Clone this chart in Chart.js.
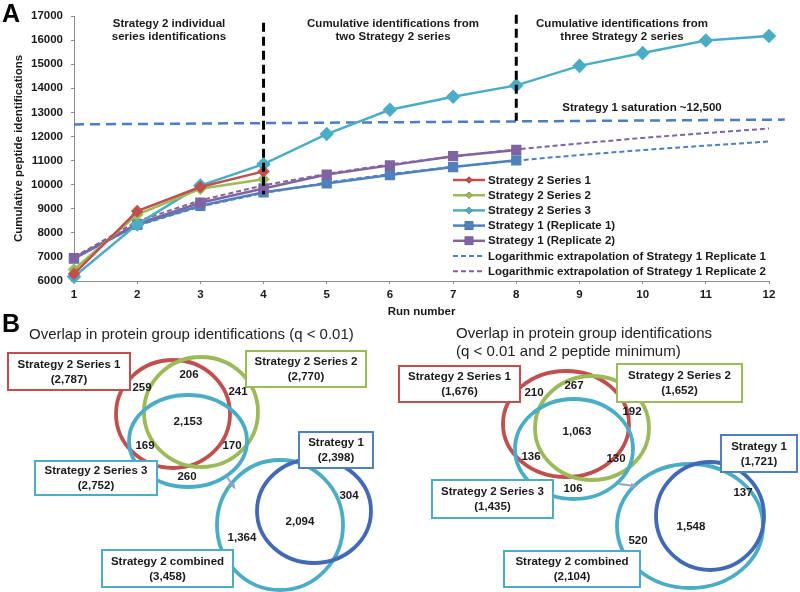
<!DOCTYPE html>
<html>
<head>
<meta charset="utf-8">
<script src="https://cdn.jsdelivr.net/npm/chart.js@4.4.0/dist/chart.umd.min.js"></script>
<style>
  html, body { margin: 0; padding: 0; background: #fff; }
  #wrap { position: relative; width: 800px; height: 592px; overflow: hidden; }
  #runChart { position: absolute; left: 0; top: 0; }
  #vennChart { position: absolute; left: 0; top: 305px; }
</style>
</head>
<body>
<div id="wrap">
  <canvas id="runChart" width="800" height="320"></canvas>
  <canvas id="vennChart" width="800" height="287"></canvas>
</div>
<script>
// ---- panel A data ----
const runs = [1, 2, 3, 4, 5, 6, 7, 8, 9, 10, 11, 12];
const series1 = [6300, 8900, 9900, 10550];
const series2 = [6480, 8760, 9830, 10220];
const series3 = [6180, 8350, 9960, 10850, 12100, 13110, 13650, 14120, 14930, 15460, 15980, 16170];
const replicate1 = [6930, 8330, 9120, 9680, 10050, 10400, 10730, 11010];
const replicate2 = [6950, 8370, 9250, 9840, 10420, 10800, 11180, 11440];
const extrap1 = [6950, 8300, 9090, 9650, 10085, 10440, 10740, 11000, 11230, 11435, 11620, 11790];
const extrap2 = [6990, 8480, 9350, 9970, 10450, 10840, 11170, 11460, 11710, 11940, 12140, 12330];
const saturationRuns = [1, 12.25];
const saturationValues = [12500, 12700];
const dividerRuns = [4, 8];
const dividerSpans = [[16720, 9600], [17050, 12650]];
const seriesNames = [
  'Strategy 2 Series 1', 'Strategy 2 Series 2', 'Strategy 2 Series 3',
  'Strategy 1 (Replicate 1)', 'Strategy 1 (Replicate 2)',
  'Logarithmic extrapolation of Strategy 1 Replicate 1',
  'Logarithmic extrapolation of Strategy 1 Replicate 2'
];

// ---- panel B data ----
const setNames = ['Strategy 2 Series 1', 'Strategy 2 Series 2', 'Strategy 2 Series 3', 'Strategy 1', 'Strategy 2 combined'];
const leftTotals = ['2,787', '2,770', '2,752', '2,398', '3,458'];
const rightTotals = ['1,676', '1,652', '1,435', '1,721', '2,104'];
const leftCounts = ['259', '206', '241', '2,153', '169', '170', '260', '304', '2,094', '1,364'];
const rightCounts = ['210', '267', '192', '1,063', '136', '130', '106', '137', '1,548', '520'];

const RED = '#C0504D', GREEN = '#9BBB59', CYAN = '#4BACC6', BLUE = '#4F81BD', PURPLE = '#8064A2';
const FONT = '"Liberation Sans", Arial, sans-serif';
const TXT = '#1a1a1a';
const BOLD = 'bold 11.5px ' + FONT;

const pts = (xs, ys) => ys.map((v, i) => ({x: xs[i], y: v}));

const lineStyle = (color, shape, r) => ({
  borderColor: color, backgroundColor: color, borderWidth: 2.5,
  pointStyle: shape, pointRadius: r, pointHoverRadius: r, tension: 0, clip: 10
});

const datasets = [
  {label: seriesNames[0], data: pts(runs, series1), ...lineStyle(RED, 'rectRot', 4.5), order: 2, legend: true},
  {label: seriesNames[1], data: pts(runs, series2), ...lineStyle(GREEN, 'rectRot', 4.5), order: 3, legend: true},
  {label: seriesNames[2], data: pts(runs, series3), ...lineStyle(CYAN, 'rectRot', 5.5), order: 4, legend: true},
  {label: seriesNames[3], data: pts(runs, replicate1), ...lineStyle(BLUE, 'rect', 5.5), order: 6, legend: true},
  {label: seriesNames[4], data: pts(runs, replicate2), ...lineStyle(PURPLE, 'rect', 5.5), order: 5, legend: true},
  {label: seriesNames[5], data: pts(runs, extrap1), borderColor: BLUE, borderWidth: 2, borderDash: [5, 3], pointRadius: 0, order: 7, legend: true},
  {label: seriesNames[6], data: pts(runs, extrap2), borderColor: PURPLE, borderWidth: 2, borderDash: [5, 3], pointRadius: 0, order: 8, legend: true},
  {label: 'saturation', data: pts(saturationRuns, saturationValues), borderColor: '#4A7EC4', borderWidth: 2.5, borderDash: [10, 6], pointRadius: 0, clip: false, order: 9},
  {label: 'div4', data: pts([dividerRuns[0], dividerRuns[0]], dividerSpans[0]), borderColor: '#000', borderWidth: 3, borderDash: [9, 5], pointRadius: 0, clip: false, order: 1},
  {label: 'div8', data: pts([dividerRuns[1], dividerRuns[1]], dividerSpans[1]), borderColor: '#000', borderWidth: 3, borderDash: [9, 5], pointRadius: 0, clip: false, order: 1}
];

// notes and legend drawn on top of the plot
const notesPlugin = {
  id: 'notes',
  afterDraw(chart) {
    const c = chart.ctx;
    c.save();
    c.fillStyle = '#000';
    c.font = 'bold 25px ' + FONT;
    c.textAlign = 'left';
    c.textBaseline = 'middle';
    c.fillText('A', 2, 15);

    c.fillStyle = TXT;
    c.font = BOLD;
    c.textAlign = 'center';
    const notes = [
      [169, 24, 'Strategy 2 individual'], [169, 37, 'series identifications'],
      [393, 24, 'Cumulative identifications from'], [393, 37, 'two Strategy 2 series'],
      [622, 24, 'Cumulative identifications from'], [622, 37, 'three Strategy 2 series'],
      [642, 108, 'Strategy 1 saturation ~12,500']
    ];
    notes.forEach(([x, y, t]) => c.fillText(t, x, y));

    // legend
    c.textAlign = 'left';
    chart.data.datasets.filter(d => d.legend).forEach((d, i) => {
      const y = 180 + i * 15.2;
      c.save();
      c.strokeStyle = d.borderColor;
      c.lineWidth = d.borderDash ? 2 : 2.5;
      c.setLineDash(d.borderDash || []);
      c.beginPath();
      c.moveTo(453, y);
      c.lineTo(485, y);
      c.stroke();
      c.restore();
      if (d.pointRadius) {
        const r = d.pointStyle === 'rect' ? 6 : 3.5;
        Chart.helpers.drawPoint(c, {pointStyle: d.pointStyle, radius: r, borderWidth: 0}, 469, y);
        c.fillStyle = d.backgroundColor;
        c.fill();
      }
      c.fillStyle = TXT;
      c.fillText(d.label, 488, y + 0.5);
    });
    c.restore();
  }
};

const tickFont = {family: FONT, size: 11.5, weight: 'bold'};

new Chart(document.getElementById('runChart'), {
  type: 'line',
  data: {datasets: datasets},
  options: {
    responsive: false,
    animation: false,
    layout: {padding: {top: 16, right: 31, left: 0, bottom: 0}},
    plugins: {legend: {display: false}, tooltip: {enabled: false}},
    scales: {
      x: {
        type: 'linear', min: 1, max: 12,
        ticks: {stepSize: 1, font: tickFont, color: TXT, padding: 4},
        grid: {drawOnChartArea: false, tickLength: 3, color: '#8c8c8c'},
        border: {color: '#8c8c8c', width: 1},
        title: {display: true, text: 'Run number', font: tickFont, color: TXT, padding: {top: 0, bottom: 1}},
        afterFit: s => { s.height = 39; }
      },
      y: {
        min: 6000, max: 17000,
        ticks: {stepSize: 1000, font: tickFont, color: TXT, padding: 8, callback: v => String(v)},
        grid: {drawOnChartArea: false, tickLength: 3, color: '#8c8c8c'},
        border: {color: '#8c8c8c', width: 1},
        title: {display: true, text: 'Cumulative peptide identifications', font: tickFont, color: TXT, padding: {top: 12, bottom: 0}},
        afterFit: s => { s.width = 74; }
      }
    }
  },
  plugins: [notesPlugin]
});

// ---- panel B layout (page pixel coordinates) ----
const vennLayout = {
  left: {
    title: [[29, 335, 'Overlap in protein group identifications (q < 0.01)']],
    ellipses: [[173, 414, 57, 54, RED], [201, 412, 57, 55, GREEN], [188, 441, 59, 46, CYAN], [280, 525, 63, 65, CYAN], [314, 511, 57, 52, '#4169B6']],
    boxes: [[8, 353, 122, 37, RED], [246, 351, 120, 36, GREEN], [35, 461, 122, 34, CYAN], [299, 432, 74, 36, BLUE], [102, 550, 131, 37, CYAN]],
    counts: [[142, 388], [189, 375], [238, 392], [188, 422], [145, 446], [232, 446], [187, 477], [349, 496], [300, 522], [242, 538]],
    arrow: [227, 477, 234, 487]
  },
  right: {
    title: [[456, 334, 'Overlap in protein group identifications'], [456, 352, '(q < 0.01 and 2 peptide minimum)']],
    ellipses: [[566, 424, 63, 53, RED], [592, 428, 57, 52, GREEN], [574, 449, 59, 50, CYAN], [690, 526, 73, 62, CYAN], [710, 516, 54, 54, '#4169B6']],
    boxes: [[399, 366, 121, 36, RED], [617, 364, 125, 38, GREEN], [432, 480, 121, 38, CYAN], [721, 435, 76, 37, BLUE], [504, 551, 136, 36, CYAN]],
    counts: [[534, 393], [574, 386], [632, 412], [577, 432], [531, 457], [616, 459], [573, 489], [743, 493], [691, 527], [638, 541]],
    arrow: [619, 484, 635, 486]
  }
};

const countSets = [
  {counts: leftCounts, pos: vennLayout.left.counts},
  {counts: rightCounts, pos: vennLayout.right.counts}
];

const vennPlugin = {
  id: 'venn',
  beforeDatasetsDraw(chart) {
    const c = chart.ctx;
    const sx = chart.scales.x, sy = chart.scales.y;
    const px = v => sx.getPixelForValue(v), py = v => sy.getPixelForValue(v);
    c.save();
    c.fillStyle = '#000';
    c.font = 'bold 25px ' + FONT;
    c.textBaseline = 'middle';
    c.fillText('B', 2, py(325));

    [['left', leftTotals], ['right', rightTotals]].forEach(([side, totals]) => {
      const L = vennLayout[side];
      c.fillStyle = '#222';
      c.font = '15px ' + FONT;
      c.textAlign = 'left';
      L.title.forEach(([x, y, t]) => c.fillText(t, px(x), py(y)));

      L.ellipses.forEach(([x, y, rx, ry, col]) => {
        c.beginPath();
        c.ellipse(px(x), py(y), Math.abs(px(x + rx) - px(x)), Math.abs(py(y + ry) - py(y)), 0, 0, Math.PI * 2);
        c.strokeStyle = col;
        c.lineWidth = 3.8;
        c.stroke();
      });

      // arrow
      const [ax1, ay1, ax2, ay2] = L.arrow;
      const x1 = px(ax1), y1 = py(ay1), x2 = px(ax2), y2 = py(ay2);
      const ang = Math.atan2(y2 - y1, x2 - x1);
      c.strokeStyle = '#8fa8c0';
      c.fillStyle = '#8fa8c0';
      c.lineWidth = 2;
      c.beginPath(); c.moveTo(x1, y1); c.lineTo(x2, y2); c.stroke();
      c.beginPath();
      c.moveTo(x2 + 3 * Math.cos(ang), y2 + 3 * Math.sin(ang));
      c.lineTo(x2 - 5 * Math.cos(ang - 0.6), y2 - 5 * Math.sin(ang - 0.6));
      c.lineTo(x2 - 5 * Math.cos(ang + 0.6), y2 - 5 * Math.sin(ang + 0.6));
      c.closePath(); c.fill();

      L.boxes.forEach(([x, y, w, h, col], i) => {
        const bx = px(x), by = py(y), bw = px(x + w) - bx, bh = py(y + h) - by;
        c.fillStyle = '#fff';
        c.fillRect(bx, by, bw, bh);
        c.strokeStyle = col;
        c.lineWidth = 2;
        c.strokeRect(bx, by, bw, bh);
        c.fillStyle = TXT;
        c.font = BOLD;
        c.textAlign = 'center';
        c.fillText(setNames[i], bx + bw / 2, by + bh / 2 - 7);
        c.fillText('(' + totals[i] + ')', bx + bw / 2, by + bh / 2 + 8);
      });
    });
    c.restore();
  },
  afterDatasetsDraw(chart) {
    const c = chart.ctx;
    c.save();
    c.fillStyle = TXT;
    c.font = BOLD;
    c.textAlign = 'center';
    c.textBaseline = 'middle';
    chart.data.datasets.forEach((d, di) => {
      chart.getDatasetMeta(di).data.forEach((el, i) => {
        c.fillText(d.data[i].label, el.x, el.y);
      });
    });
    c.restore();
  }
};

new Chart(document.getElementById('vennChart'), {
  type: 'scatter',
  data: {
    datasets: countSets.map(s => ({
      data: s.counts.map((t, i) => ({x: s.pos[i][0], y: s.pos[i][1], label: t})),
      pointRadius: 0
    }))
  },
  options: {
    responsive: false,
    animation: false,
    layout: {padding: 0},
    plugins: {legend: {display: false}, tooltip: {enabled: false}},
    scales: {
      x: {type: 'linear', min: 0, max: 800, display: false},
      y: {type: 'linear', min: 305, max: 592, reverse: true, display: false}
    }
  },
  plugins: [vennPlugin]
});
</script>
</body>
</html>
